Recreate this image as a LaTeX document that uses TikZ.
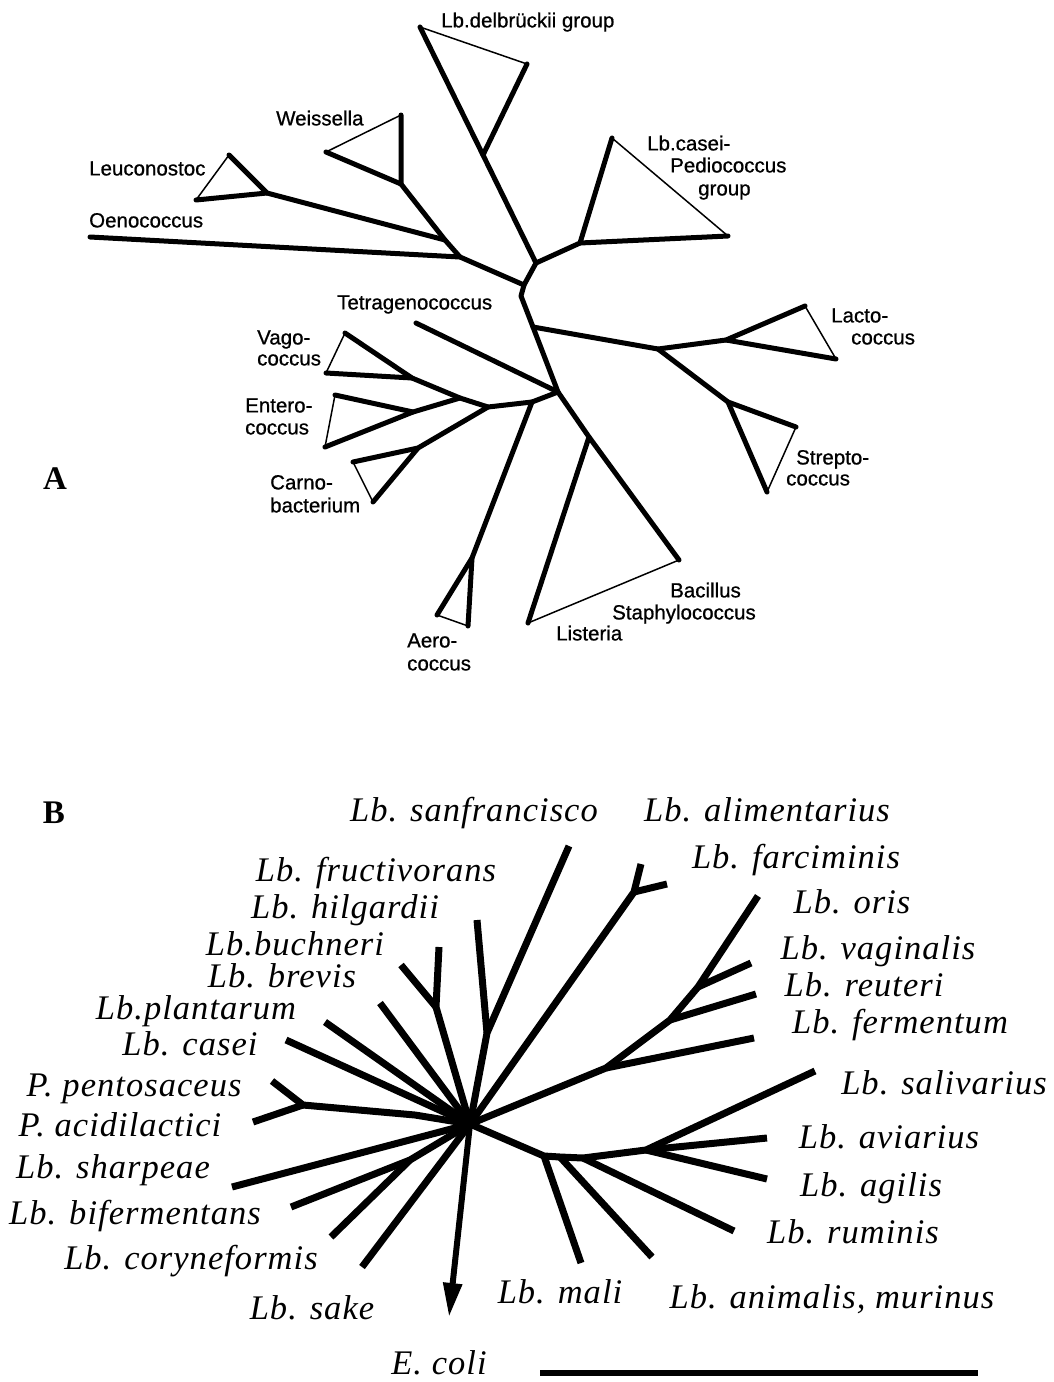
\documentclass[tikz,border=0pt]{standalone}
\usepackage{fontspec}
\setmainfont{Liberation Serif}
\newfontfamily\sansA[FakeBold=0.8]{Liberation Sans}
\newfontfamily\serifB[LetterSpace=3]{Liberation Serif}
\usetikzlibrary{arrows.meta}
\tikzset{
  thk/.style={line width=5pt, line join=round, line cap=round},
  thn/.style={line width=1.5pt, line join=round, line cap=round},
  brB/.style={line width=7pt, line join=round},
  la/.style={font=\sansA\fontsize{20.5}{24}\selectfont, inner sep=0pt, text height=14.8pt, text depth=0pt, anchor=west},
  lb/.style={font=\serifB\itshape\fontsize{34.5}{40}\selectfont, inner sep=0pt, text height=22.5pt, text depth=0pt, anchor=center},
  panel/.style={font=\bfseries\fontsize{33}{38}\selectfont, inner sep=0pt, text height=22pt, text depth=0pt}
}
\begin{document}
\begin{tikzpicture}[x=1pt,y=-1pt]
\useasboundingbox (0,0) rectangle (1054,1382);
% ---------------- Part A ----------------
\coordinate (dT1) at (420,27);
\coordinate (dT2) at (527,64);
\coordinate (dT3) at (483,155);
\coordinate (N1) at (536,263);
\coordinate (N2) at (524,285);
\coordinate (K1) at (521,296);
\coordinate (N7) at (533,327);
\coordinate (N6) at (558,392);
\coordinate (N8) at (589,437);
\coordinate (bac) at (679,560);
\coordinate (lis) at (528,623);
\coordinate (N3) at (460,257);
\coordinate (oen) at (90,237);
\coordinate (N4) at (445,240);
\coordinate (wB) at (401,184);
\coordinate (wT) at (401,115);
\coordinate (wL) at (326,152);
\coordinate (lR) at (267,193);
\coordinate (lT) at (229,155);
\coordinate (lL) at (196,200);
\coordinate (N5) at (580,243);
\coordinate (cT) at (612,138);
\coordinate (cR) at (728,236);
\coordinate (N10) at (658,349);
\coordinate (N11) at (726,340);
\coordinate (laT) at (805,306);
\coordinate (laB) at (836,359);
\coordinate (N12) at (728,402);
\coordinate (sR) at (796,427);
\coordinate (sB) at (767,492);
\coordinate (tet) at (416,323);
\coordinate (Q1) at (532,402);
\coordinate (N9) at (488,407);
\coordinate (aeN) at (472,558);
\coordinate (aeL) at (437,615);
\coordinate (aeB) at (468,626);
\coordinate (N13) at (460,398);
\coordinate (V) at (412,378);
\coordinate (vT) at (345,333);
\coordinate (vL) at (326,373);
\coordinate (E) at (413,412);
\coordinate (eT) at (335,395);
\coordinate (eB) at (325,447);
\coordinate (C) at (418,448);
\coordinate (caT) at (353,462);
\coordinate (caB) at (373,502);

\draw[thk] (dT1) -- (dT3) -- (N1) -- (N2) -- (K1) -- (N7) -- (N6) -- (N8) -- (bac);
\draw[thk] (dT2) -- (dT3);
\draw[thk] (N2) -- (N3) -- (oen);
\draw[thk] (N3) -- (N4) -- (wB) -- (wT);
\draw[thk] (wL) -- (wB);
\draw[thk] (N4) -- (lR) -- (lT);
\draw[thk] (lR) -- (lL);
\draw[thk] (N1) -- (N5) -- (cT);
\draw[thk] (N5) -- (cR);
\draw[thk] (N7) -- (N10) -- (N11) -- (laT);
\draw[thk] (N11) -- (laB);
\draw[thk] (N10) -- (N12) -- (sR);
\draw[thk] (N12) -- (sB);
\draw[thk] (N8) -- (lis);
\draw[thk] (tet) -- (N6);
\draw[thk] (N6) -- (Q1) -- (N9) -- (N13) -- (V) -- (vT);
\draw[thk] (vL) -- (V);
\draw[thk] (N13) -- (E) -- (eB);
\draw[thk] (eT) -- (E);
\draw[thk] (N9) -- (C) -- (caT);
\draw[thk] (C) -- (caB);
\draw[thk] (Q1) -- (aeN) -- (aeL);
\draw[thk] (aeN) -- (aeB);
\draw[thn] (dT1) -- (dT2);
\draw[thn] (wT) -- (wL);
\draw[thn] (lT) -- (lL);
\draw[thn] (cT) -- (cR);
\draw[thn] (laT) -- (laB);
\draw[thn] (sR) -- (sB);
\draw[thn] (bac) -- (lis);
\draw[thn] (aeL) -- (aeB);
\draw[thn] (vT) -- (vL);
\draw[thn] (eT) -- (eB);
\draw[thn] (caT) -- (caB);

\node[la] (tdel) at (441,20) {Lb.delbrückii group};
\node[la] (twei) at (276,118) {Weissella};
\node[la] (tleu) at (89,168) {Leuconostoc};
\node[la] (toen) at (89,220) {Oenococcus};
\node[la] (tcas1) at (647,143) {Lb.casei-};
\node[la] (tcas2) at (670,165) {Pediococcus};
\node[la] (tcas3) at (698,188) {group};
\node[la] (ttet) at (337,302) {Tetragenococcus};
\node[la] (tlac1) at (831,315) {Lacto-};
\node[la] (tlac2) at (851,337) {coccus};
\node[la] (tvag1) at (257,337) {Vago-};
\node[la] (tvag2) at (257,358) {coccus};
\node[la] (tent1) at (245,405) {Entero-};
\node[la] (tent2) at (245,427) {coccus};
\node[la] (tcar1) at (270,482) {Carno-};
\node[la] (tcar2) at (270,505) {bacterium};
\node[la] (tstr1) at (796,457) {Strepto-};
\node[la] (tstr2) at (786,478) {coccus};
\node[la] (tbac) at (670,590) {Bacillus};
\node[la] (tsta) at (612,612) {Staphylococcus};
\node[la] (tlis) at (556,633) {Listeria};
\node[la] (taer1) at (407,640) {Aero-};
\node[la] (taer2) at (407,663) {coccus};
\node[panel] (pA) at (55,478) {A};

% ---------------- Part B ----------------
\coordinate (O) at (470,1124);
\coordinate (sf) at (569,846);
\coordinate (F1) at (487,1033);
\coordinate (hi) at (477,920);
\coordinate (alT) at (641,864);
\coordinate (farc) at (667,884);
\coordinate (F2) at (634,892);
\coordinate (orT) at (758,896);
\coordinate (F3) at (698,987);
\coordinate (vag) at (751,963);
\coordinate (F4) at (670,1020);
\coordinate (reu) at (756,994);
\coordinate (F5) at (606,1068);
\coordinate (fer) at (754,1038);
\coordinate (L1) at (544,1156);
\coordinate (An) at (560,1157);
\coordinate (Ru) at (583,1158);
\coordinate (L2) at (646,1150);
\coordinate (sal) at (815,1071);
\coordinate (avi) at (767,1138);
\coordinate (agi) at (767,1179);
\coordinate (rum) at (734,1231);
\coordinate (ani) at (652,1257);
\coordinate (mal) at (581,1263);
\coordinate (bu) at (439,947);
\coordinate (F6) at (436,1007);
\coordinate (br) at (401,965);
\coordinate (pl) at (380,1003);
\coordinate (ca1) at (325,1022);
\coordinate (ca2) at (286,1040);
\coordinate (pe) at (272,1081);
\coordinate (ac) at (253,1122);
\coordinate (F7) at (303,1105);
\coordinate (K2) at (415,1115);
\coordinate (sh) at (232,1187);
\coordinate (bi) at (291,1207);
\coordinate (F8) at (410,1160);
\coordinate (co) at (331,1237);
\coordinate (sa) at (362,1267);
\coordinate (ec) at (449,1317);
\coordinate (sb1) at (540,1373);
\coordinate (sb2) at (978,1373);

\draw[brB] (sf) -- (F1) -- (O);
\draw[brB] (hi) -- (F1);
\draw[brB] (alT) -- (F2) -- (O);
\draw[brB] (F2) -- (farc);
\draw[brB] (orT) -- (F3) -- (F4) -- (F5) -- (O);
\draw[brB] (F3) -- (vag);
\draw[brB] (F4) -- (reu);
\draw[brB] (F5) -- (fer);
\draw[brB] (O) -- (L1) -- (An) -- (Ru) -- (L2) -- (sal);
\draw[brB] (L2) -- (avi);
\draw[brB] (L2) -- (agi);
\draw[brB] (Ru) -- (rum);
\draw[brB] (An) -- (ani);
\draw[brB] (L1) -- (mal);
\draw[brB] (bu) -- (F6) -- (O);
\draw[brB] (br) -- (F6);
\draw[brB] (pl) -- (O);
\draw[brB] (ca1) -- (O);
\draw[brB] (ca2) -- (O);
\draw[brB] (pe) -- (F7) -- (K2) -- (O);
\draw[brB] (ac) -- (F7);
\draw[brB] (sh) -- (O);
\draw[brB] (bi) -- (F8) -- (O);
\draw[brB] (co) -- (F8);
\draw[brB] (sa) -- (O);
\fill (O) circle (4.5pt);
\draw[line width=6pt, -{Triangle[length=34pt,width=18pt]}] (O) -- (ec);
\draw[line width=6pt] (sb1) -- (sb2);

\node[lb] (bsf) at (474,810) {Lb. sanfrancisco};
\node[lb] (bal) at (767,810) {Lb. alimentarius};
\node[lb] (bfr) at (376,870) {Lb. fructivorans};
\node[lb] (bfa) at (796,857) {Lb. farciminis};
\node[lb] (bhi) at (345,907) {Lb. hilgardii};
\node[lb] (bor) at (852,902) {Lb. oris};
\node[lb] (bbu) at (295,944) {Lb.buchneri};
\node[lb] (bva) at (878,948) {Lb. vaginalis};
\node[lb] (bbr) at (282,976) {Lb. brevis};
\node[lb] (bre) at (864,985) {Lb. reuteri};
\node[lb] (bpl) at (196,1008) {Lb.plantarum};
\node[lb] (bfe) at (900,1022) {Lb. fermentum};
\node[lb] (bca) at (190,1044) {Lb. casei};
\node[lb] (bpe) at (134,1085) {P. pentosaceus};
\node[lb] (bsa) at (944,1083) {Lb. salivarius};
\node[lb] (bac2) at (120,1125) {P. acidilactici};
\node[lb] (bav) at (889,1137) {Lb. aviarius};
\node[lb] (bsh) at (113,1167) {Lb. sharpeae};
\node[lb] (bag) at (871,1185) {Lb. agilis};
\node[lb] (bbi) at (135,1213) {Lb. bifermentans};
\node[lb] (bru) at (853,1232) {Lb. ruminis};
\node[lb] (bco) at (191,1258) {Lb. coryneformis};
\node[lb] (bsk) at (312,1308) {Lb. sake};
\node[lb] (bma) at (560,1292) {Lb. mali};
\node[lb] (ban) at (832,1297) {Lb. animalis, murinus};
\node[lb] (bec) at (439,1363) {E. coli};
\node[panel] (pB) at (54,812) {B};
\end{tikzpicture}
\end{document}
